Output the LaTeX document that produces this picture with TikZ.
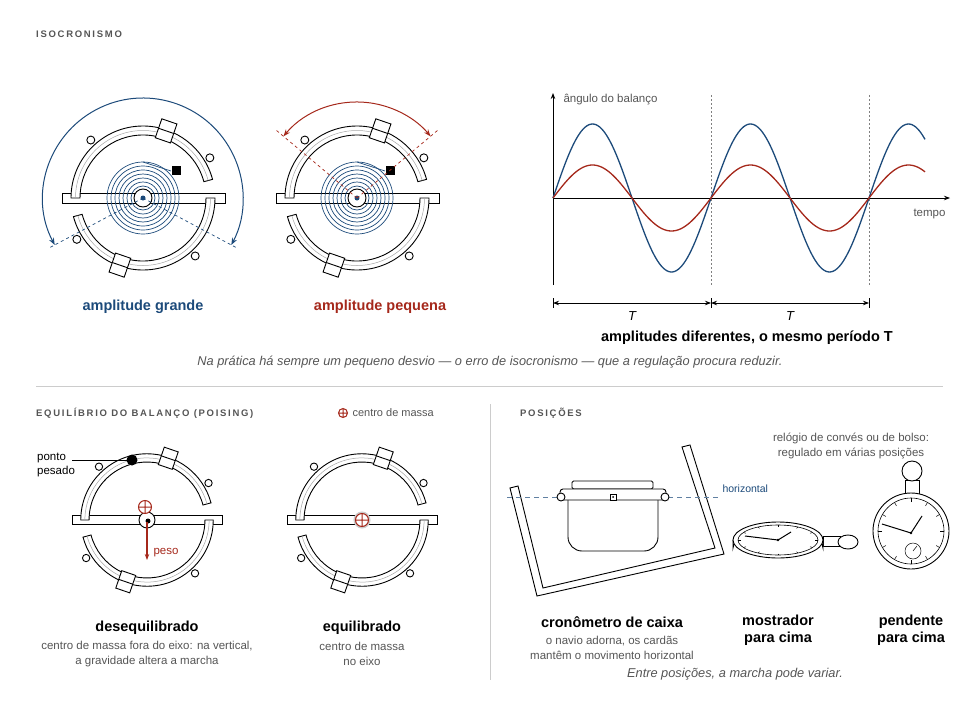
\documentclass[tikz,border=0pt]{standalone}
\usepackage{fontspec}
\setmainfont{Liberation Sans}
\usetikzlibrary{arrows.meta,calc}
\definecolor{cb}{HTML}{1C4A7A}
\definecolor{cr}{HTML}{A5281B}
\definecolor{tg}{HTML}{555555}
\begin{document}
\begin{tikzpicture}[x=1pt,y=-1pt,
  hdr/.style={font=\fontsize{9.5}{11}\selectfont\bfseries\addfontfeature{LetterSpace=18},text=tg,anchor=west,inner sep=0},
  ttl/.style={font=\fontsize{14.5}{17}\selectfont\bfseries},
  sub/.style={font=\fontsize{11.5}{15}\selectfont,text=tg},
  it/.style={font=\fontsize{12.8}{15}\selectfont\itshape,text=tg},
  ln/.style={line width=0.9pt,black},
  wheel/.pic={
    \begin{scope}[yscale=-1,ln]
      \draw[fill=white] (-81,-5) rectangle (82,5);
      \draw[fill=white] (180:72) arc[start angle=180,end angle=15,radius=72] -- (15:63) arc[start angle=15,end angle=180,radius=63] -- cycle;
      \draw[gray!70,line width=0.5pt] (180:67.5) arc[start angle=180,end angle=15,radius=67.5];
      \draw[fill=white] (0:72) arc[start angle=0,end angle=-165,radius=72] -- (-165:63) arc[start angle=-165,end angle=0,radius=63] -- cycle;
      \draw[gray!70,line width=0.5pt] (0:67.5) arc[start angle=0,end angle=-165,radius=67.5];
      \foreach \a in {132,31,212,312} \draw[fill=white] (\a:78) circle[radius=4];
      \foreach \a in {109,-71} {
        \draw[fill=white,rotate=\a] (61,-8) rectangle (81,8);
        \draw[rotate=\a] (71,-8) -- (71,8);}
    \end{scope}
  },
  spiral/.pic={
    \begin{scope}[yscale=-1]
      \foreach \r in {12,16,...,36} \draw[cb,line width=0.7pt] (0,0) circle[radius=\r];
      \draw[cb,line width=0.7pt] (90:36) -- (28,27);
      \fill[black] (29,23) rectangle (38,32);
      \draw[ln,fill=white] (0,0) circle[radius=9];
      \fill[cb] (0,0) circle[radius=2.5];
    \end{scope}
  },
  com/.style={cr,line width=1pt}
]
\useasboundingbox (0,0) rectangle (980,704);
\node[hdr] (h1) at (36,34) {ISOCRONISMO};
% wheel 1
\pic (w1) at (143,198) {wheel};
\pic (s1) at (143,198) {spiral};
\begin{scope}[shift={(143,198)},yscale=-1]
 \draw[cb,line width=0.7pt,dashed] (0,0) -- (208:107) (0,0) -- (-28:107);
 \draw[cb,line width=1pt,{Stealth[length=7pt]}-{Stealth[length=7pt]}] (208:100) arc[start angle=208,end angle=-28,radius=100];
\end{scope}
\node[ttl,text=cb] (l1) at (143,307) {amplitude grande};
% wheel 2
\pic (w2) at (357,198) {wheel};
\pic (s2) at (357,198) {spiral};
\begin{scope}[shift={(357,198)},yscale=-1]
 \draw[cr,line width=0.7pt,dashed] (0,0) -- (140:105) (0,0) -- (40:105);
 \draw[cr,line width=1pt,{Stealth[length=7pt]}-{Stealth[length=7pt]}] (140:96) arc[start angle=140,end angle=40,radius=96];
\end{scope}
\node[ttl,text=cr] (l2) at (380,307) {amplitude pequena};
% graph
\draw[gray,dash pattern=on 2pt off 2pt,line width=0.5pt] (711,95) -- (711,285) (869,95) -- (869,285);
\draw[line width=0.8pt,-{Stealth[length=6pt]}] (553,285) -- (553,93);
\draw[line width=0.8pt,-{Stealth[length=6pt]}] (553,198) -- (950,198);
\node[font=\fontsize{11.5}{13}\selectfont,anchor=west,text=tg] (ya) at (560,100) {ângulo do balanço};
\node[font=\fontsize{11.5}{13}\selectfont,anchor=east,text=tg] (xa) at (949,214) {tempo};
\draw[cb,line width=1.3pt] plot[domain=553:925,samples=200] (\x,{198-74*sin((\x-553)/158*360)});
\draw[cr,line width=1.3pt] plot[domain=553:925,samples=200] (\x,{198-33*sin((\x-553)/158*360)});
\draw[line width=0.8pt,{Stealth[length=6pt]}-{Stealth[length=6pt]}] (553,303) -- (711,303);
\draw[line width=0.8pt,{Stealth[length=6pt]}-{Stealth[length=6pt]}] (711,303) -- (869,303);
\draw[line width=0.8pt] (553,298) -- (553,308) (711,298) -- (711,308) (869,298) -- (869,308);
\node[font=\fontsize{13}{15}\selectfont\itshape] (t1) at (632,316) {T};
\node[font=\fontsize{13}{15}\selectfont\itshape] (t2) at (790,316) {T};
\node[ttl] (gt) at (747,338) {amplitudes diferentes, o mesmo período T};
\node[it] (c1) at (490,362) {Na prática há sempre um pequeno desvio — o erro de isocronismo — que a regulação procura reduzir.};
\draw[gray!40,line width=0.8pt] (36,386) -- (943,386);
\draw[gray!40,line width=0.8pt] (490,404) -- (490,680);
% poising
\node[hdr] (h2) at (36,413) {EQUILÍBRIO DO BALANÇO (POISING)};
\draw[com] (343,413) circle[radius=4.5] (338.5,413) -- (347.5,413) (343,408.5) -- (343,417.5);
\node[font=\fontsize{11}{13}\selectfont,anchor=west,text=tg] (lg) at (349,413) {centro de massa};
\pic[scale=0.92] (w3) at (147,520) {wheel};
\draw[ln,fill=white] (147,520) circle[radius=8];
\fill (148,521) circle[radius=2.5];
\fill (132,460) circle[radius=5.5];
\node[font=\fontsize{11.5}{14}\selectfont,anchor=west,align=left,inner sep=0] (pp) at (37,465) {ponto\\pesado};
\coordinate (pe) at (72,460);
\draw[line width=0.5pt] (pe) -- (127,460);
\draw[com,fill=white] (145,507) circle[radius=6.5] (138.5,507) -- (151.5,507) (145,500.5) -- (145,513.5);
\draw[cr,line width=1.2pt,-{Stealth[length=6pt]}] (147,522) -- (147,560);
\node[font=\fontsize{11.5}{13}\selectfont,text=cr,anchor=west] (ps) at (150,553) {peso};
\node[ttl] (d1) at (147,628) {desequilibrado};
\node[sub,align=center] (d2) at (147,654) {centro de massa fora do eixo: na vertical,\\a gravidade altera a marcha};
\pic[scale=0.92] (w4) at (362,520) {wheel};
\draw[gray!40,line width=2pt] (362,520) circle[radius=7.5];
\draw[com,fill=white] (362,520) circle[radius=6.5] (355.5,520) -- (368.5,520) (362,513.5) -- (362,526.5);
\node[ttl] (e1) at (362,628) {equilibrado};
\node[sub,align=center] (e2) at (362,654) {centro de massa\\no eixo};
% positions
\node[hdr] (h3) at (520,413) {POSIÇÕES};
\node[sub,align=center] (r1) at (851,446) {relógio de convés ou de bolso:\\regulado em várias posições};
\draw[ln,fill=white] (510,488) -- (537,596) -- (724,554) -- (690,445) -- (682,447) -- (715,548) -- (543,588) -- (518,486) -- cycle;
\draw[ln,fill=white,rounded corners=1.5pt] (572,481) rectangle (653,489);
\draw[ln,fill=white,rounded corners=14pt] (568,497) -- (568,551) -- (658,551) -- (658,497);
\draw[ln,fill=white,rounded corners=3pt] (560,489) rectangle (666,500);
\draw[cb!70,line width=1pt,dash pattern=on 5pt off 4pt] (507,497) -- (559,497) (668,497) -- (718,497);
\draw[ln,fill=white] (561,497) circle[radius=4] (665,497) circle[radius=4];
\draw[ln,fill=white] (610,494) rectangle (616,500);
\fill (613,497) circle[radius=1];
\node[font=\fontsize{10.5}{12}\selectfont,text=cb,anchor=west] (hz) at (719,489) {horizontal};
% flat watch
\draw[ln,fill=white] (823,536) rectangle (840,546);
\draw[ln,fill=white] (848,542) ellipse[x radius=10,y radius=7];
\draw[ln,fill=white] (733,540) -- (733,548) arc[start angle=180,end angle=360,x radius=45,y radius=18] -- (823,540);
\draw[ln,fill=white] (778,540) ellipse[x radius=45,y radius=18];
\draw[line width=0.6pt] (778,540) ellipse[x radius=40,y radius=15];
\foreach \a in {0,30,...,330} \draw[line width=0.5pt] ({778+37*cos(\a)},{540+13.5*sin(\a)}) -- ({778+40*cos(\a)},{540+15*sin(\a)});
\draw[line width=1pt] (778,540) -- (745,536) (778,540) -- (791,532);
\fill (778,540) circle[radius=1.3];
% pendant watch
\draw[ln,fill=white] (905,480) rectangle (919,495);
\draw[ln,fill=white] (912,471) circle[radius=10];
\draw[ln,fill=white] (911,531) circle[radius=38];
\draw[line width=0.6pt] (911,531) circle[radius=33];
\foreach \a in {0,30,...,330} \draw[line width=0.5pt] ($(911,531)+(\a:29)$) -- ($(911,531)+(\a:33)$);
\draw[line width=0.5pt] (913,551) circle[radius=8];
\draw[line width=0.5pt] (913,551) -- (917,546);
\draw[line width=1pt] (911,533) -- (882,524) (911,533) -- (922,516);
\fill (911,533) circle[radius=1.3];
\node[ttl] (p1) at (612,622) {cronômetro de caixa};
\node[sub,align=center] (p2) at (612,648) {o navio adorna, os cardãs\\mantêm o movimento horizontal};
\node[ttl,align=center] (p3) at (778,630) {mostrador\\para cima};
\node[ttl,align=center] (p4) at (911,630) {pendente\\para cima};
\node[it] (p5) at (735,674) {Entre posições, a marcha pode variar.};
\end{tikzpicture}
\end{document}
